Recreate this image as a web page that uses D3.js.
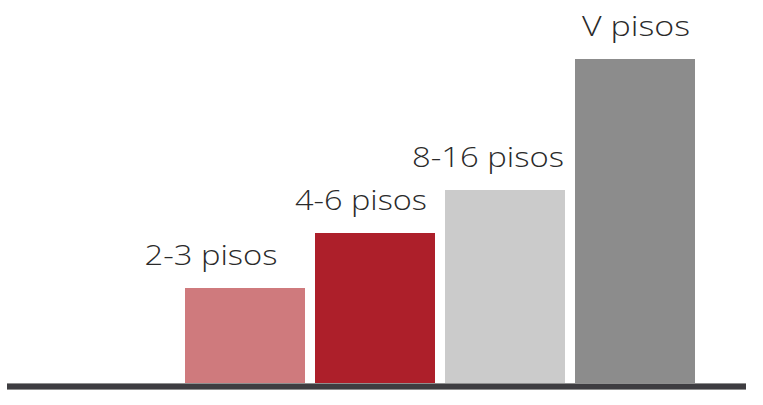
<!DOCTYPE html>
<html><head><meta charset="utf-8">
<script src="https://cdn.jsdelivr.net/npm/d3@7"></script>
<style>body{margin:0;background:#fff}svg{display:block}</style>
</head><body><svg id="c" width="763" height="405"></svg>
<script>
const categories = ["2-3 pisos", "4-6 pisos", "8-16 pisos", "V pisos"];
const values = [95, 150, 193, 324];
const colors = ["#cf7a7d", "#ad1f2a", "#cbcbcb", "#8c8c8c"];
const labelDx = [-34, -14, -17, 1];
const labelWidths = [133, 132, 152, 108];

const svg = d3.select("#c");
const x = d3.scaleBand().domain(categories).range([180, 700]).paddingInner(10/130).paddingOuter(5/130);
const y = d3.scaleLinear().domain([0, 324]).range([383, 59]);

svg.selectAll("rect.bar").data(categories).join("rect")
  .attr("class","bar")
  .attr("x", d => x(d)).attr("width", x.bandwidth())
  .attr("y", (d,i) => y(values[i])).attr("height", (d,i) => y(0) - y(values[i]))
  .attr("fill", (d,i) => colors[i]);

svg.selectAll("text.lab").data(categories).join("text")
  .attr("class","lab")
  .attr("x", (d,i) => x(d) + x.bandwidth()/2 + labelDx[i])
  .attr("y", (d,i) => y(values[i]) - 23)
  .attr("text-anchor","middle")
  .attr("font-family","'Open Sans', Lato, 'DejaVu Sans', sans-serif")
  .attr("font-weight", 300)
  .attr("font-size", 28)
  .attr("fill","#2a2a2a")
  .attr("textLength", (d,i) => labelWidths[i])
  .attr("lengthAdjust","spacingAndGlyphs")
  .text(d => d);

// baseline axis
svg.append("rect").attr("x",7).attr("y",y(0)).attr("width",739).attr("height",7).attr("fill","#8f8f8f");
svg.append("rect").attr("x",7).attr("y",y(0)+1).attr("width",739).attr("height",5).attr("fill","#3e3d41");
</script></body></html>
